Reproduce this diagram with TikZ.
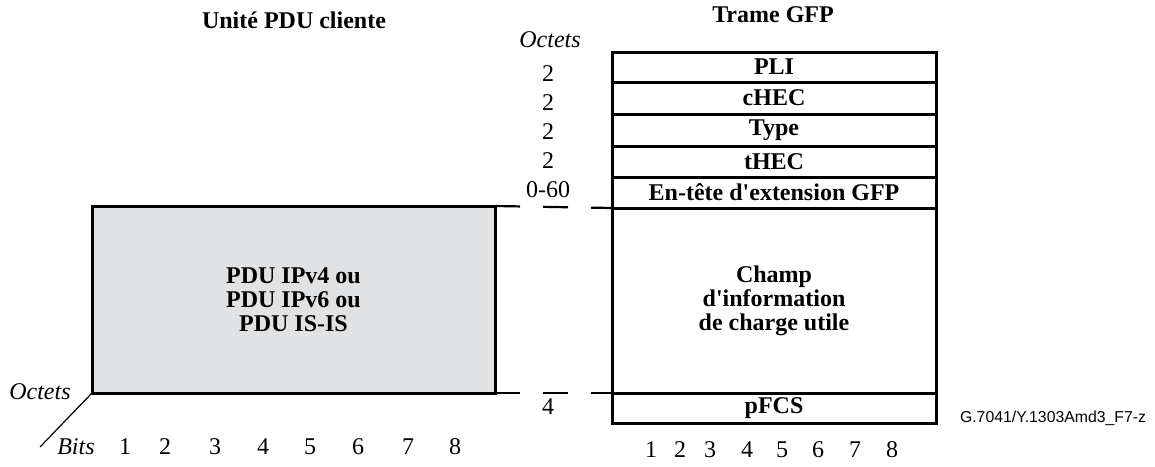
\documentclass[tikz,border=0pt]{standalone}
\usepackage{fontspec}
\setmainfont{Liberation Serif}
\newfontfamily\capfont{Liberation Sans}
\usetikzlibrary{positioning}
\definecolor{pduGray}{RGB}{225,226,228}

\begin{document}
\begin{tikzpicture}[x=0.5pt,y=-0.5pt,
	field/.style={draw,line width=1.5pt,outer sep=0pt,inner sep=0pt,minimum width=162pt,font=\bfseries,align=center},
	cut/.style={line width=1.1pt,dash pattern=on 12.5pt off 11.5pt}]
	\fontsize{12}{12}\selectfont
	\useasboundingbox (0,0) rectangle (1155,466);
	% titles
	\node[font=\bfseries] (ttlclient) at (294,20) {Unité PDU cliente};
	\node[font=\bfseries] (ttlgfp) at (773,15) {Trame GFP};
	% client PDU
	\node[field,fill=pduGray,minimum width=201.5pt,minimum height=93.5pt,anchor=north west] (client) at (92,206) {PDU IPv4 ou\\PDU IPv6 ou\\PDU IS-IS};
	% GFP frame
	\node[field,minimum height=15pt,anchor=north west] (pli) at (612,52) {PLI};
	\node[field,minimum height=16pt,below=0pt of pli] (chec) {cHEC};
	\node[field,minimum height=16pt,below=0pt of chec] (type) {Type};
	\node[field,minimum height=15.5pt,below=0pt of type] (thec) {tHEC};
	\node[field,minimum height=15.5pt,below=0pt of thec] (ext) {En-tête d\textquotesingle extension GFP};
	\node[field,minimum height=92.5pt,below=0pt of ext] (payload) {Champ\\d\textquotesingle information\\de charge utile};
	\node[field,minimum height=15pt,below=0pt of payload] (pfcs) {pFCS};
	% octet counts
	\node[font=\itshape] (octtop) at (550,40) {Octets};
	\foreach \y/\t [count=\i] in {74/2,103/2,132/2,161/2,190/0-60}
		\node (len\i) at (548,\y) {\t};
	\node (len6) at (548,407) {4};
	\draw[cut] (client.north east) -- (ext.south west);
	\draw[cut] (client.south east) -- (pfcs.north west);
	% axes
	\node[font=\itshape] (octleft) at (40,392) {Octets};
	\node[font=\itshape] (bits) at (76,447) {Bits};
	\coordinate (axisend) at (40,447);
	\draw[line width=0.6pt] (client.south west) -- (axisend);
	\foreach \x [count=\i] in {125,165,215,263,310,358,408,455}
		\node (lbit\i) at (\x,447) {\i};
	\foreach \x [count=\i] in {651,680,710,747,782,818,855,892}
		\node (rbit\i) at (\x,450) {\i};
	\node[font=\capfont\fontsize{7.9}{9}\selectfont] (figid) at (1053,418) {G.7041/Y.1303Amd3\_F7-z};
\end{tikzpicture}
\end{document}
